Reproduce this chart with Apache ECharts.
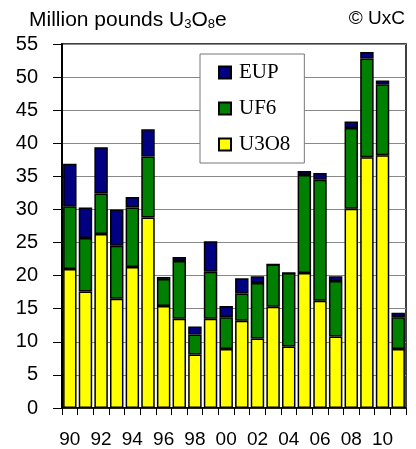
<!DOCTYPE html>
<html><head><meta charset="utf-8">
<script src="https://cdn.jsdelivr.net/npm/echarts@6/dist/echarts.min.js"></script>
<style>html,body{margin:0;padding:0;background:#fff}#c{width:416px;height:449px}</style>
</head><body><div id="c"></div>
<script>
var categories = ['90','91','92','93','94','95','96','97','98','99','00','01','02','03','04','05','06','07','08','09','10','11'];
var u3o8 = [21.0,17.6,26.3,16.5,21.3,28.8,15.4,13.5,8.1,13.5,8.9,13.2,10.5,15.3,9.3,20.4,16.2,10.8,30.1,37.9,38.2,8.9];
var uf6  = [9.5,8.1,6.1,8.0,9.0,9.2,4.1,8.7,3.0,7.1,4.8,4.1,8.4,6.4,11.1,14.8,18.3,8.4,12.2,14.9,10.7,4.8];
var eup  = [6.4,4.6,7.0,5.5,1.6,4.1,0.3,0.6,1.2,4.6,1.7,2.3,1.0,0,0,0.6,1.0,0.7,1.0,1.0,0.6,0.7];
var yTicks = {min:0, max:55, interval:5};

var chart = echarts.init(document.getElementById('c'));
var border = {borderColor:'#000', borderWidth:1.5};
function s(name, data, color){
  return {name:name, type:'bar', stack:'t', data:data, barCategoryGap:'14%',
    itemStyle:Object.assign({color:color}, border), animation:false};
}
chart.setOption({
  animation:false,
  grid:{left:62, right:10, top:44, bottom:39, show:true, borderColor:'#000', borderWidth:1.5},
  title:[{
    left:29, top:7, padding:0,
    text:'{a|Million pounds U}{s|3}{a|O}{s|8}{a|e}',
    textStyle:{fontWeight:'normal', rich:{
      a:{fontFamily:'Liberation Sans', fontSize:21, fontWeight:'normal', color:'#000', verticalAlign:'bottom', lineHeight:24},
      s:{fontFamily:'Liberation Sans', fontSize:13, fontWeight:'normal', color:'#000', verticalAlign:'bottom', lineHeight:20}
    }}
  },{
    right:11, top:7, padding:0, text:'© UxC',
    textStyle:{fontFamily:'Liberation Sans', fontSize:19, fontWeight:'normal', color:'#000', lineHeight:24}
  }],
  legend:{
    data:['EUP','UF6','U3O8'], orient:'vertical', left:200, top:54,
    padding:[8,14,8,18], itemGap:15, itemWidth:12, itemHeight:12, icon:'rect',
    backgroundColor:'#fff', borderColor:'#777', borderWidth:1,
    formatter:'{t|{name}}',
    textStyle:{fontFamily:'Liberation Serif', fontSize:21, color:'#000',
      rich:{t:{fontFamily:'Liberation Serif', fontSize:21, color:'#000', width:62, padding:[0,0,0,3]}}}
  },
  xAxis:{type:'category', data:categories,
    axisLine:{lineStyle:{color:'#000', width:1.5}},
    axisTick:{show:true, length:7, interval:0, lineStyle:{color:'#000'}},
    axisLabel:{interval:1, fontFamily:'Liberation Sans', fontSize:19, color:'#000', margin:22}
  },
  yAxis:{type:'value', min:yTicks.min, max:yTicks.max, interval:yTicks.interval,
    axisLine:{show:true, lineStyle:{color:'#000', width:2}},
    axisTick:{show:true, length:9, lineStyle:{color:'#000'}},
    splitLine:{lineStyle:{color:'#888', width:1}},
    axisLabel:{fontFamily:'Liberation Sans', fontSize:20, color:'#000', margin:24}
  },
  series:[s('U3O8', u3o8, '#ffff00'), s('UF6', uf6, '#008000'), s('EUP', eup, '#000080')]
});
</script></body></html>
